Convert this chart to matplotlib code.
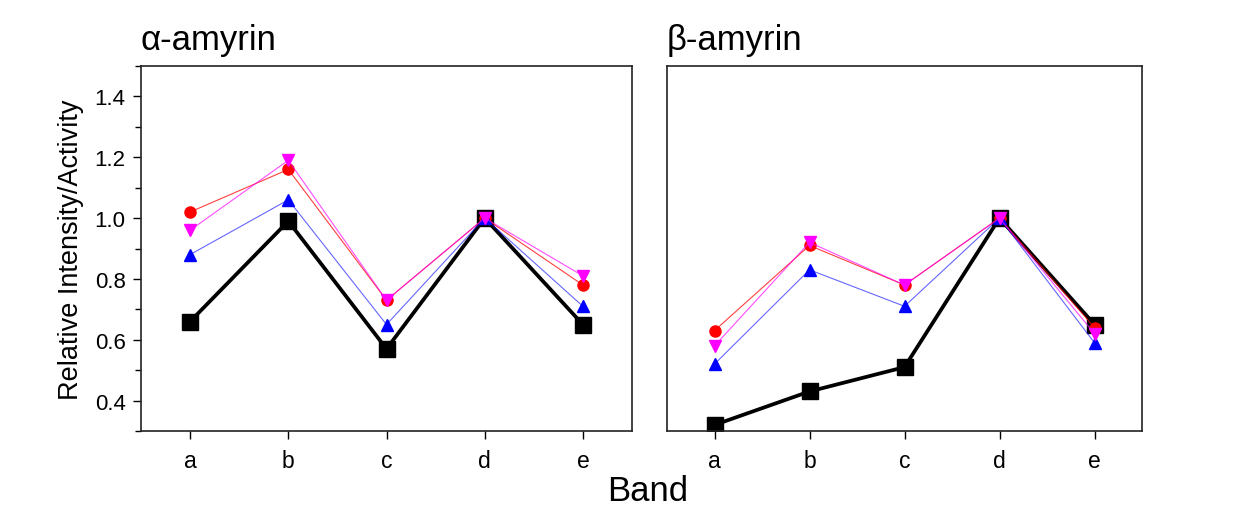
import matplotlib
matplotlib.use("Agg")
import matplotlib.pyplot as plt
from matplotlib.ticker import MultipleLocator

plt.rcParams['font.family'] = ['Liberation Sans', 'DejaVu Sans']

bands = ['a', 'b', 'c', 'd', 'e']
titles = ['α-amyrin', 'β-amyrin']

alpha_black = [0.66, 0.99, 0.57, 1.00, 0.65]
alpha_red = [1.02, 1.16, 0.73, 1.00, 0.78]
alpha_blue = [0.88, 1.06, 0.65, 1.00, 0.71]
alpha_magenta = [0.96, 1.19, 0.73, 1.00, 0.81]

beta_black = [0.32, 0.43, 0.51, 1.00, 0.65]
beta_red = [0.63, 0.91, 0.78, 1.00, 0.64]
beta_blue = [0.52, 0.83, 0.71, 1.00, 0.59]
beta_magenta = [0.58, 0.92, 0.78, 1.00, 0.62]

panels = [
    (alpha_black, alpha_red, alpha_blue, alpha_magenta),
    (beta_black, beta_red, beta_blue, beta_magenta),
]

fig = plt.figure(figsize=(12.49, 5.10), dpi=100)
W, H = 1249, 510
boxes = [(141, 67, 632, 432), (667, 67, 1142, 432)]
x = list(range(len(bands)))

for i, ((x0, y0, x1, y1), data, title) in enumerate(zip(boxes, panels, titles)):
    ax = fig.add_axes([x0 / W, 1 - y1 / H, (x1 - x0) / W, (y1 - y0) / H])
    blk, red, blu, mag = data
    ax.plot(x, blk, color='black', lw=2.7, marker='s', ms=11, zorder=2)
    ax.plot(x, red, color='red', lw=0.8, alpha=0.75, zorder=3)
    ax.plot(x, red, ls='none', color='red', marker='o', ms=8, zorder=3.1)
    ax.plot(x, blu, color='blue', lw=0.8, alpha=0.6, zorder=4)
    ax.plot(x, blu, ls='none', color='blue', marker='^', ms=9, zorder=4.1)
    ax.plot(x, mag, color='magenta', lw=0.8, alpha=0.7, zorder=5)
    ax.plot(x, mag, ls='none', color='magenta', marker='v', ms=9, zorder=5.1)
    ax.set_xlim(-0.5, 4.5)
    ax.set_ylim(0.3, 1.5)
    ax.set_xticks(x)
    ax.set_xticklabels(bands, fontsize=16.5)
    ax.tick_params(axis='x', direction='out', length=6, width=1, pad=7)
    for s in ax.spines.values():
        s.set_linewidth(1.2)
        s.set_color('#222222')
    if i == 0:
        ax.yaxis.set_minor_locator(MultipleLocator(0.1))
        ax.set_yticks([0.4, 0.6, 0.8, 1.0, 1.2, 1.4])
        ax.set_yticklabels(['0.4', '0.6', '0.8', '1.0', '1.2', '1.4'], fontsize=16)
        ax.tick_params(axis='y', which='major', direction='out', length=6, width=1, pad=5)
        ax.tick_params(axis='y', which='minor', direction='out', length=4, width=1)
        ax.set_ylabel('Relative Intensity/Activity', fontsize=19.5, labelpad=8)
    else:
        ax.set_yticks([])
    ax.text(0.0, 1 + 17 / (y1 - y0), title, transform=ax.transAxes, fontsize=25,
            ha='left', va='baseline')

fig.text(648 / W, 1 - 492 / H, 'Band', fontsize=25, ha='center', va='center')

fig.savefig('out.png', dpi=100, facecolor='white')
